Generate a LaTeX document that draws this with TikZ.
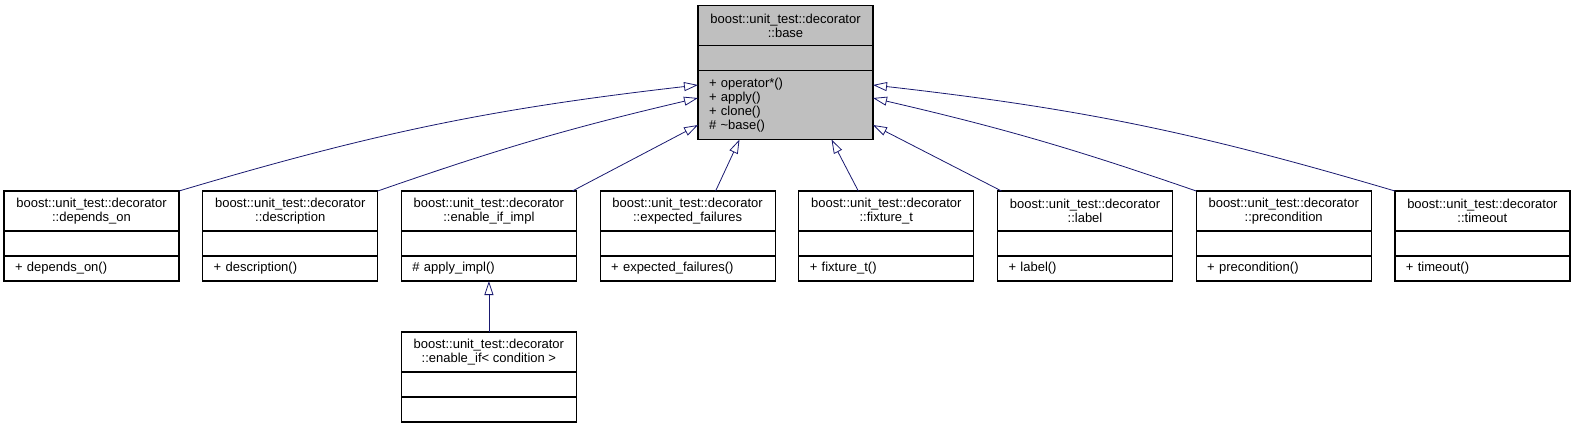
\documentclass[tikz,border=0pt]{standalone}
\usepackage{fontspec}
\setmainfont{Liberation Sans}
\usetikzlibrary{positioning,arrows.meta,calc}
\definecolor{edgeblue}{HTML}{191970}
\definecolor{basegray}{HTML}{BFBFBF}
\tikzset{
  part/.style={draw=black, line width=1.2pt, outer sep=0pt, inner sep=0pt,
    minimum width=175pt, font=\fontsize{13}{14}\selectfont},
  head/.style={part, minimum height=40pt, align=center},
  attr/.style={part, minimum height=25pt},
  ops/.style={part, minimum height=25pt, text width=153pt, align=left},
  inherit/.style={draw=edgeblue, line width=0.8pt,
    -{Triangle[open, length=14pt, width=9pt]}}
}

\begin{document}
\begin{tikzpicture}[x=1pt,y=-1pt,node distance=23.7pt]
  \useasboundingbox (0,0) rectangle (1575,429);
  % base class
  \node[head, fill=basegray] (base) at (785.5,25.5) {boost::unit\_test::decorator\\::base};
  \node[attr, fill=basegray] (base-at) [below=0pt of base] {};
  \node[ops, fill=basegray, minimum height=69pt] (base-op) [below=0pt of base-at]
    {+ operator*()\\+ apply()\\+ clone()\\\# \textasciitilde base()};
  % derived classes
  \node[head] (depends) at (91.5,211) {boost::unit\_test::decorator\\::depends\_on};
  \node[attr] (depends-at) [below=0pt of depends] {};
  \node[ops] (depends-op) [below=0pt of depends-at] {+ depends\_on()};
  \node[head] (descr) [right = of depends] {boost::unit\_test::decorator\\::description};
  \node[attr] (descr-at) [below=0pt of descr] {};
  \node[ops] (descr-op) [below=0pt of descr-at] {+ description()};
  \node[head] (enimpl) [right = of descr] {boost::unit\_test::decorator\\::enable\_if\_impl};
  \node[attr] (enimpl-at) [below=0pt of enimpl] {};
  \node[ops] (enimpl-op) [below=0pt of enimpl-at] {\# apply\_impl()};
  \node[head] (expfail) [right = of enimpl] {boost::unit\_test::decorator\\::expected\_failures};
  \node[attr] (expfail-at) [below=0pt of expfail] {};
  \node[ops] (expfail-op) [below=0pt of expfail-at] {+ expected\_failures()};
  \node[head] (fixture) [right = of expfail] {boost::unit\_test::decorator\\::fixture\_t};
  \node[attr] (fixture-at) [below=0pt of fixture] {};
  \node[ops] (fixture-op) [below=0pt of fixture-at] {+ fixture\_t()};
  \node[head] (label) [right = of fixture] {boost::unit\_test::decorator\\::label};
  \node[attr] (label-at) [below=0pt of label] {};
  \node[ops] (label-op) [below=0pt of label-at] {+ label()};
  \node[head] (precond) [right = of label] {boost::unit\_test::decorator\\::precondition};
  \node[attr] (precond-at) [below=0pt of precond] {};
  \node[ops] (precond-op) [below=0pt of precond-at] {+ precondition()};
  \node[head] (timeout) [right = of precond] {boost::unit\_test::decorator\\::timeout};
  \node[attr] (timeout-at) [below=0pt of timeout] {};
  \node[ops] (timeout-op) [below=0pt of timeout-at] {+ timeout()};
  % template
  \node[head] (enif) [below=51pt of enimpl-op] {boost::unit\_test::decorator\\::enable\_if< condition >};
  \node[attr] (enif-at) [below=0pt of enif] {};
  \node[attr] (enif-op) [below=0pt of enif-at] {};
  % inheritance
  \draw[inherit] (depends.north east) to[bend left=5] ($(base-op.west)+(0,-20)$);
  \draw[inherit] (descr.north east) to[bend left=3] ($(base-op.west)+(0,-7)$);
  \draw[inherit] ($(enimpl.north east)+(-4,0)$) to ($(base-op.west)+(0,20)$);
  \draw[inherit] ($(expfail.north)+(28,0)$) to ($(base-op.south)+(-46,0)$);
  \draw[inherit] ($(fixture.north)+(-28,0)$) to ($(base-op.south)+(46,0)$);
  \draw[inherit] ($(label.north west)+(4,0)$) to ($(base-op.east)+(0,20)$);
  \draw[inherit] (precond.north west) to[bend right=3] ($(base-op.east)+(0,-7)$);
  \draw[inherit] (timeout.north west) to[bend right=5] ($(base-op.east)+(0,-20)$);
  \draw[inherit] (enif) -- (enimpl-op);
\end{tikzpicture}
\end{document}
